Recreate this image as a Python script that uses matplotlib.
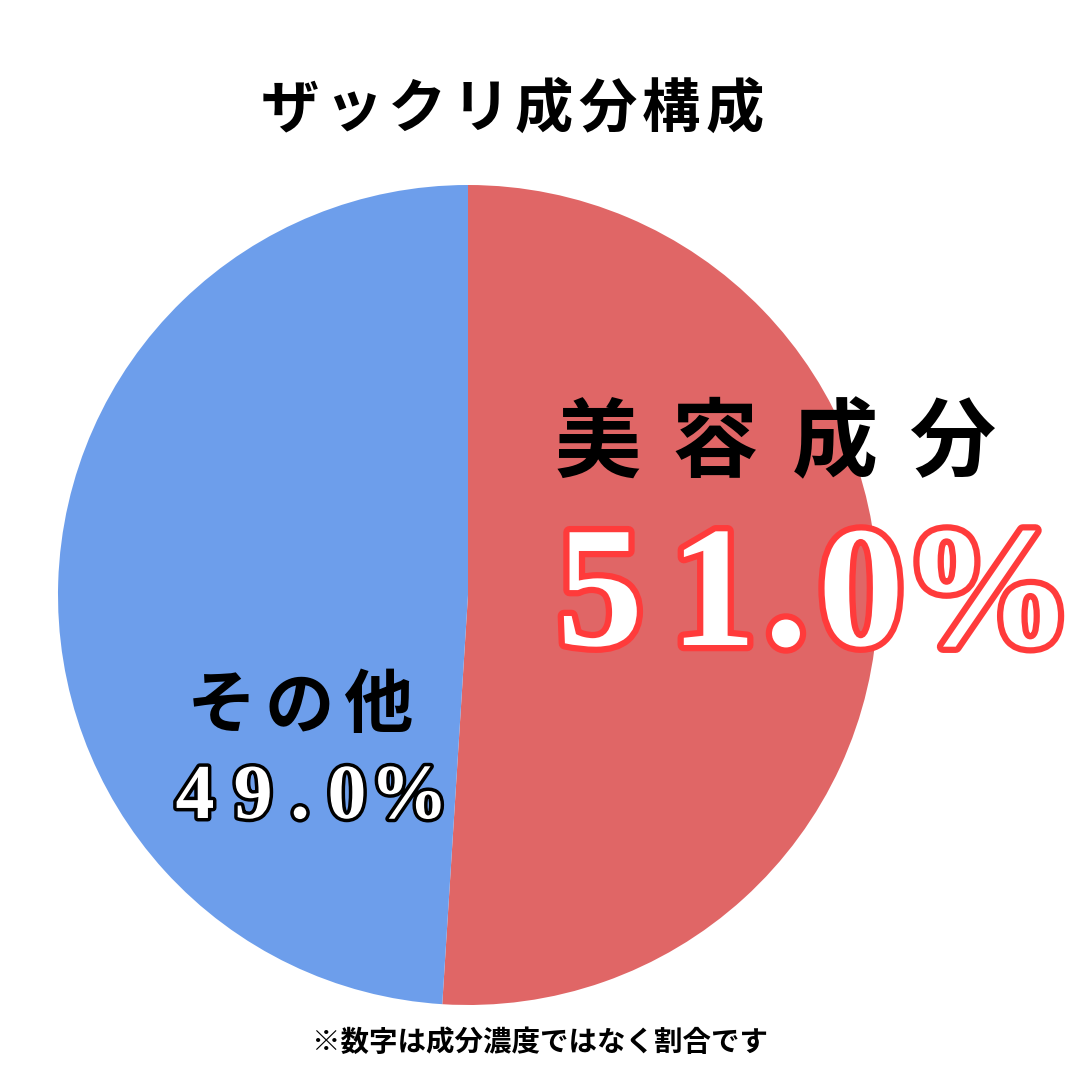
import matplotlib.pyplot as plt
import matplotlib.patheffects as pe

# ---------------------- data ----------------------
labels = ["美容成分", "その他"]
values = [51.0, 49.0]
colors = ["#E06666", "#6D9EEB"]
title = "ザックリ成分構成"
note = "※数字は成分濃度ではなく割合です"

JP = ["Noto Sans CJK JP", "DejaVu Sans"]
SERIF = ["Liberation Serif", "DejaVu Serif"]

fig = plt.figure(figsize=(10.8, 10.8), dpi=100)
ax = fig.add_axes([0, 0, 1, 1])

# pie, clockwise from 12 o'clock
ax.pie(values, colors=colors, startangle=90, counterclock=False,
       center=(468, 1080 - 595), radius=410, frame=True,
       wedgeprops=dict(linewidth=0))
ax.set_xlim(0, 1080)
ax.set_ylim(0, 1080)
ax.set_aspect("equal")
ax.axis("off")


def place(text, xs, y, va="center", **kw):
    # one character per x position, to get the wide letter spacing
    for ch, x in zip(text, xs):
        ax.text(x, y, ch, ha="center", va=va, **kw)


pct = [f"{v:.1f}%" for v in values]

# big label, red slice
place(labels[0], [598, 715, 835, 952], 1080 - 445, fontsize=62,
      fontweight="bold", family=JP, color="black")
place(pct[0], [600, 713, 786, 861, 988], 1080 - 645, va="baseline",
      fontsize=124, fontweight="bold", family=SERIF, color="white",
      path_effects=[pe.withStroke(linewidth=9, foreground="#FF3B3B")])

# label, blue slice
place(labels[1], [222, 299, 378], 1080 - 707, fontsize=50,
      fontweight="bold", family=JP, color="black")
place(pct[1], [195, 253, 300, 347, 409], 1080 - 818, va="baseline",
      fontsize=56, fontweight="bold", family=SERIF, color="white",
      path_effects=[pe.withStroke(linewidth=5, foreground="black")])

# title and footnote
place(title, [290 + 63.5 * i for i in range(len(title))], 1080 - 110,
      fontsize=42, fontweight="bold", family=JP, color="black")
fig.text(540 / 1080, 1 - 1043 / 1080, note, ha="center", va="center",
         fontsize=20.5, fontweight="bold", family=JP, color="black")

fig.savefig("out.png", dpi=100, facecolor="white")
